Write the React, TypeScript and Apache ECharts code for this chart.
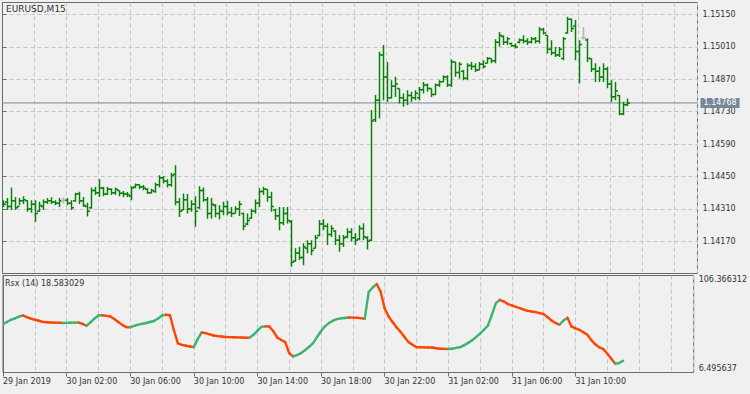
import React, { useEffect, useRef } from 'react';
import * as echarts from 'echarts';

// ---- data (EURUSD M15, 29 Jan 22:00 .. 31 Jan 13:00) ----
const barOpen = [
  1.14335, 1.14340, 1.14320, 1.14345, 1.14320, 1.14345, 1.14345, 1.14310, 1.14330, 1.14300,
  1.14320, 1.14340, 1.14345, 1.14340, 1.14335, 1.14348, 1.14348, 1.14335, 1.14345, 1.14375,
  1.14345, 1.14320, 1.14315, 1.14390, 1.14380, 1.14400, 1.14375, 1.14395, 1.14380, 1.14390,
  1.14378, 1.14375, 1.14365, 1.14405, 1.14415, 1.14405, 1.14395, 1.14380, 1.14385, 1.14415,
  1.14445, 1.14430, 1.14415, 1.14460, 1.14340, 1.14305, 1.14350, 1.14310, 1.14330, 1.14315,
  1.14390, 1.14350, 1.14290, 1.14325, 1.14290, 1.14300, 1.14320, 1.14295, 1.14290, 1.14310,
  1.14290, 1.14245, 1.14270, 1.14300, 1.14335, 1.14385, 1.14395, 1.14360, 1.14305, 1.14280,
  1.14250, 1.14290, 1.14255, 1.14085, 1.14120, 1.14100, 1.14140, 1.14160, 1.14140, 1.14195,
  1.14245, 1.14235, 1.14200, 1.14215, 1.14175, 1.14160, 1.14190, 1.14210, 1.14185, 1.14180,
  1.14225, 1.14185, 1.14175, 1.14695, 1.14780, 1.14975, 1.14880, 1.14790, 1.14840, 1.14830,
  1.14790, 1.14780, 1.14800, 1.14790, 1.14790, 1.14825, 1.14845, 1.14830, 1.14805, 1.14845,
  1.14860, 1.14880, 1.14845, 1.14945, 1.14900, 1.14905, 1.14875, 1.14930, 1.14925, 1.14910,
  1.14935, 1.14940, 1.14960, 1.14950, 1.15030, 1.15055, 1.15030, 1.15025, 1.15015, 1.15030,
  1.15040, 1.15035, 1.15030, 1.15045, 1.15035, 1.15085, 1.15060, 1.15000, 1.14985, 1.14975,
  1.14960, 1.15070, 1.15130, 1.15100, 1.14990, 1.15050, 1.15040, 1.14960, 1.14915, 1.14905,
  1.14880, 1.14915, 1.14850, 1.14795, 1.14800, 1.14720, 1.14760,
];
const barHigh = [
  1.14348, 1.14357, 1.14403, 1.14362, 1.14357, 1.14365, 1.14348, 1.14348, 1.14348, 1.14341,
  1.14351, 1.14357, 1.14361, 1.14348, 1.14357, 1.14362, 1.14357, 1.14348, 1.14380, 1.14384,
  1.14362, 1.14337, 1.14403, 1.14406, 1.14438, 1.14406, 1.14406, 1.14399, 1.14403, 1.14391,
  1.14387, 1.14383, 1.14408, 1.14420, 1.14416, 1.14413, 1.14399, 1.14397, 1.14423, 1.14456,
  1.14452, 1.14438, 1.14466, 1.14499, 1.14357, 1.14377, 1.14374, 1.14348, 1.14365, 1.14408,
  1.14403, 1.14362, 1.14357, 1.14331, 1.14326, 1.14341, 1.14345, 1.14318, 1.14322, 1.14345,
  1.14293, 1.14290, 1.14311, 1.14351, 1.14399, 1.14406, 1.14395, 1.14384, 1.14311, 1.14318,
  1.14318, 1.14318, 1.14262, 1.14140, 1.14147, 1.14162, 1.14175, 1.14175, 1.14197, 1.14262,
  1.14265, 1.14248, 1.14240, 1.14218, 1.14197, 1.14197, 1.14226, 1.14226, 1.14205, 1.14240,
  1.14248, 1.14192, 1.14737, 1.14802, 1.14989, 1.15018, 1.14945, 1.14866, 1.14881, 1.14830,
  1.14809, 1.14823, 1.14816, 1.14823, 1.14837, 1.14859, 1.14852, 1.14830, 1.14852, 1.14866,
  1.14888, 1.14888, 1.14956, 1.14945, 1.14945, 1.14910, 1.14939, 1.14945, 1.14939, 1.14945,
  1.14953, 1.14967, 1.14960, 1.15043, 1.15075, 1.15061, 1.15053, 1.15028, 1.15025, 1.15047,
  1.15061, 1.15047, 1.15053, 1.15053, 1.15096, 1.15093, 1.15061, 1.15039, 1.15010, 1.15010,
  1.15053, 1.15140, 1.15133, 1.15126, 1.15039, 1.15096, 1.15047, 1.14960, 1.14939, 1.14924,
  1.14939, 1.14924, 1.14866, 1.14859, 1.14802, 1.14773, 1.14787,
];
const barLow = [
  1.14318, 1.14305, 1.14305, 1.14305, 1.14326, 1.14331, 1.14298, 1.14293, 1.14255, 1.14298,
  1.14305, 1.14331, 1.14331, 1.14326, 1.14318, 1.14334, 1.14326, 1.14305, 1.14341, 1.14331,
  1.14318, 1.14277, 1.14311, 1.14370, 1.14362, 1.14365, 1.14370, 1.14370, 1.14370, 1.14365,
  1.14362, 1.14362, 1.14348, 1.14399, 1.14395, 1.14391, 1.14374, 1.14377, 1.14380, 1.14403,
  1.14420, 1.14403, 1.14406, 1.14326, 1.14275, 1.14305, 1.14290, 1.14298, 1.14233, 1.14311,
  1.14341, 1.14268, 1.14268, 1.14274, 1.14265, 1.14283, 1.14283, 1.14275, 1.14290, 1.14279,
  1.14218, 1.14240, 1.14268, 1.14290, 1.14318, 1.14370, 1.14341, 1.14298, 1.14262, 1.14218,
  1.14240, 1.14247, 1.14060, 1.14082, 1.14089, 1.14067, 1.14118, 1.14110, 1.14140, 1.14192,
  1.14218, 1.14154, 1.14189, 1.14154, 1.14125, 1.14146, 1.14183, 1.14168, 1.14154, 1.14175,
  1.14175, 1.14135, 1.14170, 1.14686, 1.14701, 1.14780, 1.14773, 1.14787, 1.14794, 1.14766,
  1.14751, 1.14758, 1.14773, 1.14780, 1.14780, 1.14809, 1.14816, 1.14794, 1.14802, 1.14837,
  1.14859, 1.14837, 1.14837, 1.14881, 1.14874, 1.14866, 1.14866, 1.14910, 1.14902, 1.14910,
  1.14917, 1.14939, 1.14939, 1.14940, 1.15011, 1.15018, 1.15018, 1.15011, 1.15003, 1.15025,
  1.15025, 1.15018, 1.15025, 1.15025, 1.15025, 1.15064, 1.14982, 1.14974, 1.14967, 1.14967,
  1.14953, 1.15068, 1.15075, 1.14953, 1.14852, 1.15042, 1.14945, 1.14902, 1.14859, 1.14859,
  1.14859, 1.14831, 1.14773, 1.14780, 1.14715, 1.14715, 1.14755,
];
const barClose = [
  1.14330, 1.14320, 1.14345, 1.14315, 1.14345, 1.14350, 1.14310, 1.14330, 1.14290, 1.14325,
  1.14340, 1.14345, 1.14340, 1.14335, 1.14345, 1.14348, 1.14335, 1.14315, 1.14375, 1.14345,
  1.14325, 1.14300, 1.14390, 1.14380, 1.14400, 1.14375, 1.14395, 1.14380, 1.14395, 1.14378,
  1.14375, 1.14370, 1.14400, 1.14415, 1.14405, 1.14400, 1.14380, 1.14390, 1.14415, 1.14445,
  1.14430, 1.14415, 1.14455, 1.14340, 1.14300, 1.14350, 1.14310, 1.14330, 1.14300, 1.14390,
  1.14350, 1.14290, 1.14330, 1.14290, 1.14300, 1.14320, 1.14295, 1.14290, 1.14310, 1.14330,
  1.14235, 1.14260, 1.14300, 1.14335, 1.14385, 1.14395, 1.14360, 1.14320, 1.14280, 1.14250,
  1.14290, 1.14260, 1.14080, 1.14120, 1.14100, 1.14145, 1.14160, 1.14130, 1.14185, 1.14245,
  1.14235, 1.14200, 1.14225, 1.14175, 1.14160, 1.14185, 1.14210, 1.14185, 1.14175, 1.14225,
  1.14190, 1.14170, 1.14690, 1.14780, 1.14975, 1.14880, 1.14790, 1.14840, 1.14850, 1.14790,
  1.14780, 1.14800, 1.14790, 1.14810, 1.14825, 1.14845, 1.14830, 1.14805, 1.14845, 1.14860,
  1.14880, 1.14845, 1.14945, 1.14900, 1.14935, 1.14875, 1.14930, 1.14925, 1.14910, 1.14935,
  1.14925, 1.14960, 1.14950, 1.15030, 1.15060, 1.15030, 1.15045, 1.15015, 1.15010, 1.15040,
  1.15035, 1.15030, 1.15045, 1.15035, 1.15085, 1.15070, 1.15000, 1.14985, 1.14975, 1.15000,
  1.15045, 1.15130, 1.15090, 1.14990, 1.15020, 1.15050, 1.14960, 1.14915, 1.14905, 1.14880,
  1.14915, 1.14850, 1.14795, 1.14820, 1.14720, 1.14760, 1.14768,
];
const rsxValues = [
  56.3, 58.5, 60.8, 62.3, 64.0, 65.2, 63.5, 62.0, 60.8, 59.8,
  58.6, 58.2, 58.0, 57.8, 57.7, 57.5, 57.6, 57.7, 57.8, 57.9,
  56.5, 54.6, 58.0, 62.0, 65.2, 65.4, 64.8, 64.2, 61.5, 58.5,
  55.5, 53.2, 53.0, 54.5, 55.8, 56.6, 57.5, 58.5, 59.5, 62.0,
  65.2, 66.0, 65.5, 50.0, 36.5, 35.0, 34.0, 33.3, 32.6, 41.0,
  47.7, 47.0, 45.8, 44.6, 44.0, 43.5, 43.0, 42.9, 42.8, 42.7,
  42.5, 42.3, 42.2, 45.3, 49.5, 53.5, 54.0, 53.8, 49.0, 42.5,
  40.0, 37.8, 26.5, 23.0, 24.5, 26.5, 29.5, 33.0, 36.8, 43.0,
  49.0, 54.0, 57.4, 59.8, 61.5, 62.2, 62.6, 63.1, 63.0, 62.8,
  62.5, 61.8, 89.3, 94.0, 97.5, 89.9, 72.8, 64.2, 58.5, 53.0,
  48.5, 43.0, 37.8, 35.0, 32.6, 32.5, 32.4, 32.3, 32.2, 31.5,
  30.9, 30.8, 30.7, 31.0, 31.8, 32.6, 34.5, 37.0, 39.5, 43.0,
  46.5, 50.5, 54.9, 66.0, 77.9, 81.3, 79.5, 77.0, 75.5, 74.0,
  72.8, 71.3, 70.0, 69.3, 68.7, 67.7, 66.6, 63.5, 60.0, 57.5,
  55.6, 60.0, 62.8, 53.9, 52.0, 50.5, 48.0, 45.3, 40.0, 35.5,
  32.5, 30.6, 26.0, 21.0, 15.5, 16.2, 18.583029,
];
const priceTicks = [1.1417, 1.1431, 1.1445, 1.1459, 1.1473, 1.1487, 1.1501, 1.1515];
const timeTickIndex = [0, 16, 32, 48, 64, 80, 96, 112, 128, 144];
const timeTickLabels = [
  '29 Jan 2019', '30 Jan 02:00', '30 Jan 06:00', '30 Jan 10:00', '30 Jan 14:00',
  '30 Jan 18:00', '30 Jan 22:00', '31 Jan 02:00', '31 Jan 06:00', '31 Jan 10:00',
];
const symbolTitle = 'EURUSD,M15';
const rsxTitle = 'Rsx (14)';
const rsxScaleMin = 6.495637;
const rsxScaleMax = 106.366312;
const priceScaleMin = 1.14031;
const priceScaleMax = 1.15202;
const visibleSlots = 173.75;

const FONT = 'DejaVu Sans';
const TEXT = '#333333';
const FRAME = '#6b6b6b';
const GRIDC = '#c4c4c4';
const BAR = '#0a800a';
const DOJI = '#b4b4b4';
const UP = '#3cb371';
const DOWN = '#ff4500';
const BIDLINE = '#778899';

export default function App() {
  const ref = useRef<HTMLDivElement>(null);
  useEffect(() => {
    const chart = echarts.init(ref.current as HTMLDivElement, null, { renderer: 'svg' });
    const ohlc = barOpen.map((o, i) => [i, o, barClose[i], barLow[i], barHigh[i]]);
    const rsxSegs = rsxValues.slice(1).map((v, k) => [k + 1, rsxValues[k], v]);
    const lastClose = barClose[barClose.length - 1];
    const lastRsx = rsxValues[rsxValues.length - 1];
    const split = { show: true, lineStyle: { color: GRIDC, type: [4, 3] as any, width: 1 } };

    const option: any = {
      animation: false,
      backgroundColor: '#f0f0f0',
      textStyle: { fontFamily: FONT },
      title: [
        { text: symbolTitle, left: 6, top: 4, padding: 0, textStyle: { fontSize: 9, fontWeight: 'normal', color: TEXT, fontFamily: FONT } },
        { text: `${rsxTitle} ${lastRsx.toFixed(6)}`, left: 5, top: 279.5, padding: 0, textStyle: { fontSize: 8, fontWeight: 'normal', color: TEXT, fontFamily: FONT } },
      ],
      grid: [
        { left: 2.5, right: 52.5, top: 2.5, height: 271, show: true, borderColor: FRAME, borderWidth: 1, backgroundColor: 'transparent' },
        { left: 2.5, right: 52.5, top: 275.5, height: 97, show: true, borderColor: FRAME, borderWidth: 1, backgroundColor: 'transparent' },
      ],
      xAxis: [
        { gridIndex: 0, type: 'value', min: 0, max: visibleSlots, interval: 8, axisLine: { show: false }, axisTick: { show: false }, axisLabel: { show: false }, splitLine: split },
        { gridIndex: 1, type: 'value', min: 0, max: visibleSlots, interval: 8, axisLine: { show: false }, axisTick: { show: false }, axisLabel: { show: false }, splitLine: split },
        {
          gridIndex: 1, type: 'value', min: 0, max: visibleSlots, position: 'bottom',
          axisLine: { show: false },
          axisTick: { show: true, customValues: timeTickIndex, length: 4, lineStyle: { color: FRAME } },
          axisLabel: {
            show: true, customValues: timeTickIndex, align: 'left', margin: 5, fontSize: 8, color: TEXT, fontFamily: FONT,
            formatter: (v: number) => { const k = timeTickIndex.indexOf(Math.round(v)); return k >= 0 ? timeTickLabels[k] : ''; },
          },
          splitLine: { show: false },
        },
      ],
      yAxis: [
        {
          gridIndex: 0, type: 'value', position: 'right', min: priceScaleMin, max: priceScaleMax,
          axisLine: { show: true, lineStyle: { color: FRAME } },
          axisTick: { show: true, customValues: priceTicks, length: 4, lineStyle: { color: FRAME } },
          axisLabel: { show: true, customValues: priceTicks, margin: 5, fontSize: 8, color: TEXT, fontFamily: FONT, formatter: (v: number) => v.toFixed(5) },
          splitLine: split,
        },
        {
          gridIndex: 1, type: 'value', position: 'right', min: rsxScaleMin, max: rsxScaleMax,
          axisLine: { show: true, lineStyle: { color: FRAME } },
          axisTick: { show: true, customValues: [rsxScaleMin, rsxScaleMax], length: 4, lineStyle: { color: FRAME } },
          axisLabel: { show: true, customValues: [rsxScaleMin], verticalAlign: 'bottom', margin: 5, fontSize: 8, color: TEXT, fontFamily: FONT, formatter: (v: number) => v.toFixed(6) },
          splitLine: { show: false },
        },
        {
          gridIndex: 1, type: 'value', position: 'right', min: rsxScaleMin, max: rsxScaleMax,
          axisLine: { show: false }, axisTick: { show: false },
          axisLabel: { show: true, customValues: [rsxScaleMax], verticalAlign: 'top', margin: 5, fontSize: 8, color: TEXT, fontFamily: FONT, formatter: (v: number) => v.toFixed(6) },
          splitLine: { show: false },
        },
      ],
      series: [
        {
          type: 'line', xAxisIndex: 0, yAxisIndex: 0, silent: true, z: 1,
          data: [[0, lastClose], [visibleSlots, lastClose]],
          symbol: 'none', showSymbol: false, clip: false,
          lineStyle: { color: BIDLINE, width: 1, type: 'solid' },
          endLabel: {
            show: true, distance: 3, formatter: () => lastClose.toFixed(5), color: '#ffffff',
            backgroundColor: BIDLINE, padding: [1, 3, 1, 3], fontSize: 8, fontFamily: FONT,
          },
        },
        {
          type: 'custom', xAxisIndex: 0, yAxisIndex: 0, data: ohlc, clip: true, z: 2,
          encode: { x: 0, y: [1, 2, 3, 4] },
          renderItem: (_p: any, api: any) => {
            const x = api.value(0), o = api.value(1), c = api.value(2), l = api.value(3), h = api.value(4);
            const pH = api.coord([x, h]), pL = api.coord([x, l]), pO = api.coord([x, o]), pC = api.coord([x, c]);
            const col = o === c ? DOJI : BAR;
            const px = Math.round(pH[0]) + 0.5;
            const st = { stroke: col, lineWidth: 1.5 };
            return {
              type: 'group',
              children: [
                { type: 'line', shape: { x1: px, y1: pH[1], x2: px, y2: pL[1] }, style: st },
                { type: 'line', shape: { x1: px - 2.5, y1: pO[1], x2: px, y2: pO[1] }, style: st },
                { type: 'line', shape: { x1: px, y1: pC[1], x2: px + 2.5, y2: pC[1] }, style: st },
              ],
            };
          },
        },
        {
          type: 'custom', xAxisIndex: 1, yAxisIndex: 1, data: rsxSegs, clip: true,
          encode: { x: 0, y: [1, 2] },
          renderItem: (_p: any, api: any) => {
            const i = api.value(0), a = api.value(1), b = api.value(2);
            const p0 = api.coord([i - 1, a]), p1 = api.coord([i, b]);
            return {
              type: 'line',
              shape: { x1: p0[0], y1: p0[1], x2: p1[0], y2: p1[1] },
              style: { stroke: b >= a ? UP : DOWN, lineWidth: 2.4, lineCap: 'round' },
            };
          },
        },
      ],
    };
    chart.setOption(option);
    return () => chart.dispose();
  }, []);
  return <div ref={ref} style={{ position: 'fixed', left: 0, top: 0, width: 750, height: 394, background: '#f0f0f0' }} />;
}
